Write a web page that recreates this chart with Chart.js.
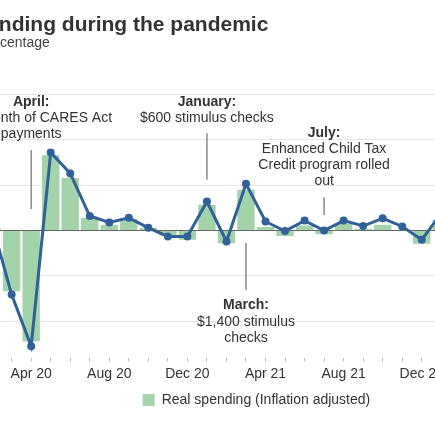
<!DOCTYPE html>
<html><head><meta charset="utf-8">
<script src="https://cdn.jsdelivr.net/npm/chart.js@4.4.0/dist/chart.umd.min.js"></script>
<style>
html,body{margin:0;padding:0;background:#fff;overflow:hidden;width:435px;height:435px;position:relative}
#wrap{position:absolute;top:0}
</style></head><body>
<div id="wrap"><canvas id="c"></canvas></div>
<script>
// ---- data ----
const months = ['Feb 20','Mar 20','Apr 20','May 20','Jun 20','Jul 20','Aug 20','Sep 20','Oct 20','Nov 20','Dec 20',
  'Jan 21','Feb 21','Mar 21','Apr 21','May 21','Jun 21','Jul 21','Aug 21','Sep 21','Oct 21','Nov 21','Dec 21','Jan 22'];
const realSpending    = [0.2,-6.7,-12.2,8.3,5.8,1.4,0.6,1.25,0.3,-0.55,-1.0,2.85,-1.4,4.5,0.4,-0.6,0.55,-0.4,0.75,0.2,0.65,0.0,-1.45,1.2];
const nominalSpending = [0.7,-7.05,-12.75,8.6,6.3,1.6,0.9,1.4,0.3,-0.65,-0.65,3.2,-1.2,5.15,1.0,-0.05,1.1,0.0,1.1,0.5,1.35,0.45,-1.0,1.9];
const yTicks = [-10,-5,0,5,10,15];
const shownLabels = ['Apr 20','Aug 20','Dec 20','Apr 21','Aug 21','Dec 21'];
const annotations = [
  {month:'Apr 20', lines:[['April:',true],['First month of CARES Act',false],['payments',false]], textY:13.76, lineFrom:8.88, lineTo:2.37},
  {month:'Jan 21', lines:[['January:',true],['$600 stimulus checks',false]], textY:13.76, lineFrom:10.73, lineTo:5.6},
  {month:'Jul 21', lines:[['July:',true],['Enhanced Child Tax',false],['Credit program rolled',false],['out',false]], textY:10.34, lineFrom:3.66, lineTo:1.71},
  {month:'Mar 21', lines:[['March:',true],['$1,400 stimulus',false],['checks',false]], textY:-8.69, lineFrom:-1.38, lineTo:-6.56}
];

// ---- layout (the reference is a crop of a wider chart) ----
const FAMILY = '"Liberation Sans", Arial, Helvetica, sans-serif';
const TITLE = 'U.S. spending during the pandemic';
const SUBTITLE = 'Growth in percentage';
const mctx = document.createElement('canvas').getContext('2d');
mctx.font = 'bold 21px ' + FAMILY;
const hiddenTitle = mctx.measureText('U.S. spe').width;
mctx.font = '14px ' + FAMILY;
const hiddenSub = mctx.measureText('Growth in per').width;
const CL = -(hiddenTitle + hiddenSub) / 2 - 1;
const PLOT_LEFT = -18.1, PLOT_RIGHT = 450.6, CENTER = 256;
const CR = 2*CENTER - CL, W = CR - CL, yAxisW = PLOT_LEFT - CL, rightW = CR - PLOT_RIGHT;
const wrap = document.getElementById('wrap');
wrap.style.left = CL + 'px'; wrap.style.width = W + 'px'; wrap.style.height = '435px';

const notesPlugin = {
  id:'notes',
  afterDraw(chart){
    const {ctx, scales:{x,y}} = chart;
    ctx.save();
    annotations.forEach(a=>{
      const px = x.getPixelForValue(months.indexOf(a.month));
      ctx.strokeStyle = '#8a8a8a'; ctx.lineWidth = 1.5;
      ctx.beginPath();
      ctx.moveTo(px, y.getPixelForValue(a.lineFrom));
      ctx.lineTo(px, y.getPixelForValue(a.lineTo));
      ctx.stroke();
      const by = y.getPixelForValue(a.textY);
      ctx.textAlign = 'center'; ctx.textBaseline = 'alphabetic'; ctx.fillStyle = '#333';
      a.lines.forEach(([t,b],i)=>{
        ctx.font = (b?'bold ':'') + '14px ' + FAMILY;
        ctx.fillText(t, px, by + i*16.2);
      });
    });
    ctx.restore();
  }
};

new Chart(document.getElementById('c'), {
  data:{
    labels: months,
    datasets:[
      {type:'bar', label:'Real spending (Inflation adjusted)', data:realSpending, backgroundColor:'#a3d3a8',
       barPercentage:0.89, categoryPercentage:1, order:2},
      {type:'line', label:'Nominal spending', data:nominalSpending, borderColor:'#30619a', backgroundColor:'#30619a',
       borderWidth:3, pointRadius:2.5, pointHoverRadius:2.5, tension:0, order:1}
    ]
  },
  options:{
    responsive:true, maintainAspectRatio:false, animation:false,
    layout:{padding:{left:0,right:0,top:0,bottom:18}},
    plugins:{
      title:{display:true, text:TITLE, align:'start', color:'#333', font:{family:FAMILY, size:21, weight:'bold', lineHeight:0.9}, padding:{top:16,bottom:0}},
      subtitle:{display:true, text:SUBTITLE, align:'start', color:'#444', font:{family:FAMILY, size:14}, padding:{top:0.15,bottom:42.6}},
      legend:{position:'bottom', labels:{filter:(it)=>it.datasetIndex===0, boxWidth:12, boxHeight:12, color:'#333', font:{family:FAMILY,size:14}, padding:6.4}},
      tooltip:{enabled:false}
    },
    scales:{
      x:{
        grid:{offset:false, drawOnChartArea:false, drawTicks:true, tickLength:4, color:'#bbb'},
        border:{display:false},
        ticks:{autoSkip:false, maxRotation:0, minRotation:0, color:'#333', font:{family:FAMILY,size:14}, padding:4.1,
          callback:(v,i)=> shownLabels.includes(months[i]) ? months[i] : ''}
      },
      y:{
        min:-14, max:15,
        afterBuildTicks:(s)=>{ s.ticks = yTicks.map(v=>({value:v})); },
        afterFit:(s)=>{ s.width = yAxisW; },
        grid:{color:(c)=> c.tick && c.tick.value===0 ? '#666' : '#e6e6e6', drawTicks:false},
        border:{display:false},
        ticks:{callback:(v)=>v+'%', color:'#333', font:{family:FAMILY,size:14}, padding:4}
      },
      yR:{
        position:'right', display:true,
        afterFit:(s)=>{ s.width = rightW; },
        grid:{drawOnChartArea:false, drawTicks:false},
        border:{display:false},
        ticks:{display:false}
      }
    }
  },
  plugins:[notesPlugin]
});
</script>
</body></html>
